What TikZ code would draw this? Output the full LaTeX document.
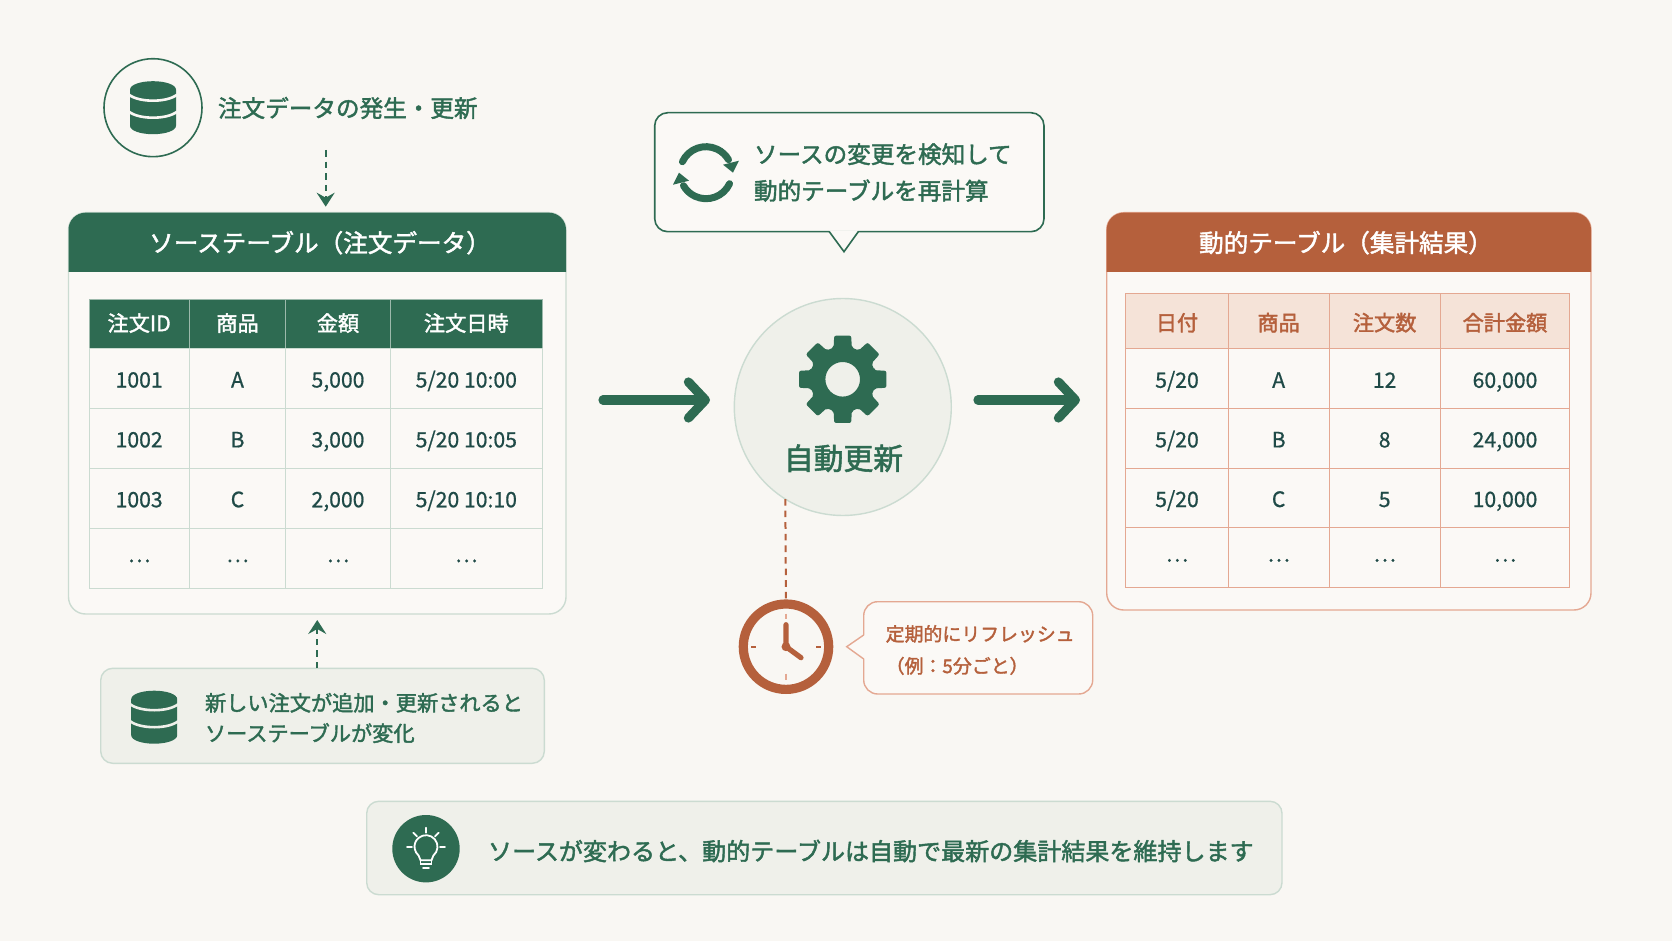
\documentclass[tikz,border=0pt]{standalone}
\usepackage{fontspec}
\setmainfont{Noto Sans CJK JP}
\newfontfamily\medfont{Noto Sans CJK JP}[FakeBold=1.8]
\newfontfamily\cellfont{Noto Sans CJK JP}[FakeBold=0.7]
\usetikzlibrary{arrows.meta, calc, positioning}

\definecolor{paper}{HTML}{F9F7F3}
\definecolor{sheet}{HTML}{FBF9F6}
\definecolor{mist}{HTML}{EFF0EA}
\definecolor{leaf}{HTML}{2E6B52}
\definecolor{leafline}{HTML}{CBDBD1}
\definecolor{ink}{HTML}{1F4A47}
\definecolor{rust}{HTML}{B5603C}
\definecolor{rustline}{HTML}{E4A892}
\definecolor{rustpale}{HTML}{F5E3D8}

\tikzset{
  every node/.style = {outer sep=0pt, inner sep=0pt},
  % cards and boxes
  src_box/.style   = {draw=leafline, fill=sheet, line width=.7pt, rounded corners=8.5pt},
  res_box/.style   = {draw=rustline, fill=sheet, line width=.7pt, rounded corners=8.5pt},
  note_box/.style  = {draw=leafline, fill=mist, line width=.7pt, rounded corners=6pt},
  % table cells
  cell/.style      = {font=\cellfont\fontsize{10.6pt}{12pt}\selectfont, text height=9pt, text depth=0pt, align=center},
  s_head/.style    = {cell, font=\medfont\fontsize{10.6pt}{12pt}\selectfont, text height=7.2pt, draw=leafline!70!leaf, line width=.5pt, fill=leaf, text=white, minimum height=24.65pt},
  s_body/.style    = {cell, draw=leafline, line width=.5pt, fill=sheet, text=ink, minimum height=29.93pt},
  r_head/.style    = {cell, font=\medfont\fontsize{10.6pt}{12pt}\selectfont, text height=9.6pt, draw=rustline, line width=.5pt, fill=rustpale, text=rust, minimum height=27.85pt},
  r_body/.style    = {cell, draw=rustline, line width=.5pt, fill=sheet, text=ink, minimum height=29.8pt},
  sA/.style = {minimum width=50.15pt}, sB/.style = {minimum width=48.2pt},
  sC/.style = {minimum width=52.3pt},  sD/.style = {minimum width=76pt},
  rA/.style = {minimum width=51.3pt},  rB/.style = {minimum width=50.35pt},
  rC/.style = {minimum width=55.65pt}, rD/.style = {minimum width=64.7pt},
  % texts
  title/.style     = {font=\medfont\fontsize{12.3pt}{14pt}\selectfont, text=white},
  lead/.style      = {font=\medfont\fontsize{11.8pt}{18.3pt}\selectfont, text=leaf, anchor=west, align=left},
  % connectors
  thin_arrow/.style = {draw=leaf, line width=1pt, dash pattern=on 3.3pt off 2.5pt, shorten >=3pt,
                       -{Stealth[length=7pt, width=9pt, inset=2.5pt]}},
  big_arrow/.style  = {draw=leaf, line width=4.6pt, line cap=round,
                       -{Straight Barb[length=8.5pt, width=18pt, round]}},
  % icons
  pics/dbicon/.style = {code = {
    \path[fill=leaf] (-23,-18) .. controls (-23,-23) and (-12.5,-26.5) .. (0,-26.5)
        .. controls (12.5,-26.5) and (23,-23) .. (23,-18) -- (23,18)
        .. controls (23,23) and (12.5,26.5) .. (0,26.5)
        .. controls (-12.5,26.5) and (-23,23) .. (-23,18) -- cycle;
    \draw[#1, line width=1.3pt] (-24,-13) .. controls (-14,-5) and (14,-5) .. (24,-13);
    \draw[#1, line width=1.3pt] (-24,4) .. controls (-14,12) and (14,12) .. (24,4);
  }},
  pics/gearicon/.style = {code = {
    \path[fill=leaf, even odd rule, rounded corners=1pt] (-16:33)
        \foreach \a in {0,45,...,315} { -- (\a-16:33) -- (\a-11:44.5) -- (\a+11:44.5) -- (\a+16:33) }
        -- cycle (0,0) circle (17.3);
  }},
  pics/syncicon/.style = {code = {
    \draw[leaf, line width=3.5pt, line cap=round] (-155:26) arc[start angle=-155, end angle=-30, radius=26];
    \draw[leaf, line width=3.5pt, line cap=round] (25:26) arc[start angle=25, end angle=150, radius=26];
    \path[fill=leaf] (33,-12) -- (27,0) -- (17,-8) -- cycle;
    \path[fill=leaf] (-33,12) -- (-27,0) -- (-17,8) -- cycle;
  }},
  pics/clockface/.style = {code = {
    \draw[rust, line width=.9pt] (-35,0) -- (-30,0) (30,0) -- (35,0);
    \draw[rustline, line width=.9pt] (0,-33) -- (0,-28) (0,27) -- (0,33);
    \draw[rust, line width=2.6pt, line cap=round] (0,-22) -- (0,0) -- (15,11);
    \path[fill=rust] (0,0) circle (4.5);
  }},
  pics/bulbicon/.style = {code = {
    \begin{scope}[white, line width=.9pt, line cap=round]
      \draw (5.5,11.5) -- (7.4,6.8) arc[start angle=50, end angle=-230, radius=11.5] -- (-5.5,11.5) -- cycle;
      \draw (-5.5,11.5) -- (-5.5,15.5) -- (5.5,15.5) -- (5.5,11.5);
      \draw (-3,19.5) -- (3,19.5);
      \draw (0,-21) -- (0,-16) (-19,-1.5) -- (-14,-1.5) (14,-1.5) -- (19,-1.5);
      \draw (-12.7,-16) -- (-9,-12.3) (12.7,-16) -- (9,-12.3);
    \end{scope}
  }},
}
\newcommand{\moredots}{\raisebox{2.5pt}{…}}

\begin{document}
\begin{tikzpicture}[x=.5pt, y=-.5pt]
\useasboundingbox[fill=paper] (0,0) rectangle (1672,941);
%--- source side
\node (evt_disc) [circle, draw=leaf, line width=.8pt, minimum size=49pt] at (153,107.7) {};
\pic at (evt_disc) {dbicon=paper};
\node (evt_text) [lead] at (218,108) {注文データの発生・更新};

\node (src_card) [src_box, minimum width=248.75pt, minimum height=200.65pt] at (317.25,413.35) {};
\path[fill=leaf, rounded corners=8.5pt] (src_card.west |- 0,272) -- (src_card.north west)
        -- (src_card.north east) -- (src_card.east |- 0,272);
\node (src_title) [title] at (320,242.7) {ソーステーブル（注文データ）};

\coordinate (evt_out) at (325.7,150);
\draw[thin_arrow] (evt_out) -- (evt_out |- src_card.north);

%--- source table
\node (s0a) [s_head, sA] at (139.15,323.95) {注文ID};
\node (s0b) [s_head, sB, right=0mm of s0a] {商品};
\node (s0c) [s_head, sC, right=0mm of s0b] {金額};
\node (s0d) [s_head, sD, right=0mm of s0c] {注文日時};

\node (s1a) [s_body, sA, below=0mm of s0a] {1001};
\node (s1b) [s_body, sB, right=0mm of s1a] {A};
\node (s1c) [s_body, sC, right=0mm of s1b] {5,000};
\node (s1d) [s_body, sD, right=0mm of s1c] {5/20 10:00};

\node (s2a) [s_body, sA, below=0mm of s1a] {1002};
\node (s2b) [s_body, sB, right=0mm of s2a] {B};
\node (s2c) [s_body, sC, right=0mm of s2b] {3,000};
\node (s2d) [s_body, sD, right=0mm of s2c] {5/20 10:05};

\node (s3a) [s_body, sA, below=0mm of s2a] {1003};
\node (s3b) [s_body, sB, right=0mm of s3a] {C};
\node (s3c) [s_body, sC, right=0mm of s3b] {2,000};
\node (s3d) [s_body, sD, right=0mm of s3c] {5/20 10:10};

\node (s4a) [s_body, sA, below=0mm of s3a] {\moredots};
\node (s4b) [s_body, sB, right=0mm of s4a] {\moredots};
\node (s4c) [s_body, sC, right=0mm of s4b] {\moredots};
\node (s4d) [s_body, sD, right=0mm of s4c] {\moredots};

%--- change note
\node (chg_note) [note_box, minimum width=221.8pt, minimum height=47.5pt] at (322.5,715.8) {};
\pic at (154.2,717.2) {dbicon=mist};
\node (chg_text) [lead, font=\medfont\fontsize{10.6pt}{15.2pt}\selectfont] at (205,718) {新しい注文が追加・更新されると\\ソーステーブルが変化};
\draw[thin_arrow] (chg_note.north -| src_card.south) -- (src_card.south);

%--- centre
\node (sync_box) [draw=leaf, fill=sheet, line width=.8pt, rounded corners=6.5pt,
                  minimum width=194.65pt, minimum height=59.5pt] at (849.35,172.2) {};
\path[fill=sheet] (829.3,230.5) -- (844,251.7) -- (858.3,230.5) -- cycle;
\draw[leaf, line width=.8pt] (829.3,231.7) -- (844,251.7) -- (858.3,231.7);
\pic at (706,172.7) {syncicon};
\node (sync_text) [lead] at (754,172.5) {ソースの変更を検知して\\動的テーブルを再計算};

\node (auto) [circle, draw=leafline, fill=mist, line width=.7pt, minimum size=108.5pt] at (842.8,407) {};
\pic at (842.7,379.3) {gearicon};
\node (auto_text) [font=\medfont\fontsize{14.9pt}{16pt}\selectfont, text=leaf] at (843.5,458.3) {自動更新};

\coordinate (src_out) at (603,400);
\coordinate (auto_in) at (710,400);
\coordinate (auto_out) at (978,400);
\coordinate (res_in) at (1080,400);
\draw[big_arrow] (src_out) -- (auto_in);
\draw[big_arrow] (auto_out) -- (res_in);

%--- clock
\node (clock) [circle, draw=rust, line width=4.6pt, minimum size=42.7pt] at (786,646.7) {};
\draw[rust, line width=1pt, dash pattern=on 3.3pt off 2.5pt] (auto.238.4) -- (clock.north);
\pic at (clock) {clockface};

\node (tick_box) [draw=rustline, fill=sheet, line width=.7pt, rounded corners=7pt,
                  minimum width=114.5pt, minimum height=46.15pt] at (978.2,647.85) {};
\path[fill=sheet] (865,635) -- (846.7,646.7) -- (865,659) -- cycle;
\draw[rustline, line width=.7pt] (863.7,635) -- (846.7,646.7) -- (863.7,659);
\node (tick_text) [lead, text=rust, font=\medfont\fontsize{9.45pt}{16pt}\selectfont] at (885.7,650) {定期的にリフレッシュ\\（例：5分ごと）};

%--- result side
\node (res_card) [res_box, minimum width=242.15pt, minimum height=198.65pt] at (1348.85,411.35) {};
\path[fill=rust, rounded corners=8.5pt] (res_card.west |- 0,272) -- (res_card.north west)
        -- (res_card.north east) -- (res_card.east |- 0,272);
\node (res_title) [title] at (1346,242.7) {動的テーブル（集計結果）};

\node (r0a) [r_head, rA] at (1177,321.15) {日付};
\node (r0b) [r_head, rB, right=0mm of r0a] {商品};
\node (r0c) [r_head, rC, right=0mm of r0b] {注文数};
\node (r0d) [r_head, rD, right=0mm of r0c] {合計金額};

\node (r1a) [r_body, rA, below=0mm of r0a] {5/20};
\node (r1b) [r_body, rB, right=0mm of r1a] {A};
\node (r1c) [r_body, rC, right=0mm of r1b] {12};
\node (r1d) [r_body, rD, right=0mm of r1c] {60,000};

\node (r2a) [r_body, rA, below=0mm of r1a] {5/20};
\node (r2b) [r_body, rB, right=0mm of r2a] {B};
\node (r2c) [r_body, rC, right=0mm of r2b] {8};
\node (r2d) [r_body, rD, right=0mm of r2c] {24,000};

\node (r3a) [r_body, rA, below=0mm of r2a] {5/20};
\node (r3b) [r_body, rB, right=0mm of r3a] {C};
\node (r3c) [r_body, rC, right=0mm of r3b] {5};
\node (r3d) [r_body, rD, right=0mm of r3c] {10,000};

\node (r4a) [r_body, rA, below=0mm of r3a] {\moredots};
\node (r4b) [r_body, rB, right=0mm of r4a] {\moredots};
\node (r4c) [r_body, rC, right=0mm of r4b] {\moredots};
\node (r4d) [r_body, rD, right=0mm of r4c] {\moredots};

%--- bottom line
\node (tip_bar) [note_box, minimum width=457.65pt, minimum height=46.7pt] at (824.35,848) {};
\node (tip_disc) [circle, fill=leaf, minimum size=33.7pt] at (426,848.7) {};
\pic at (tip_disc) {bulbicon};
\node (tip_text) [lead, font=\medfont\fontsize{12.02pt}{14pt}\selectfont] at (488,851) {ソースが変わると、動的テーブルは自動で最新の集計結果を維持します};

\end{tikzpicture}
\end{document}
